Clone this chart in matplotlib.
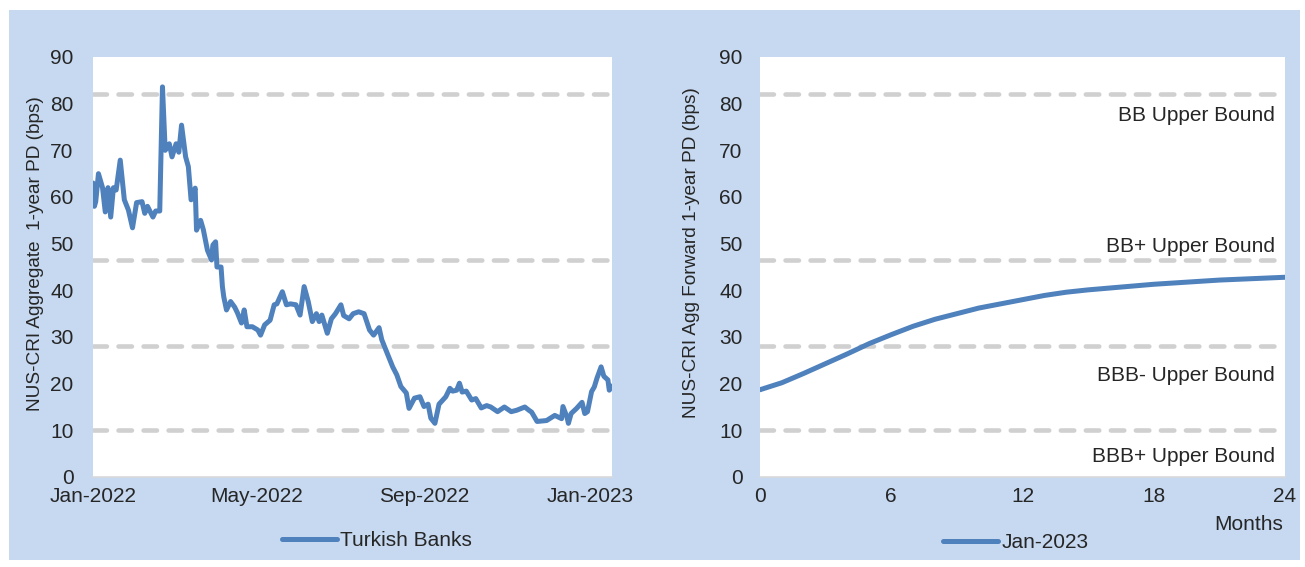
import matplotlib
matplotlib.use("Agg")
import matplotlib.pyplot as plt
import pandas as pd
from matplotlib.patches import Rectangle

plt.rcParams['font.family'] = ['Liberation Sans', 'DejaVu Sans']

# ---------------- data ----------------
left_dates = [
    "2022-01-01", "2022-01-02", "2022-01-03", "2022-01-05", "2022-01-07", "2022-01-08",
    "2022-01-10", "2022-01-12", "2022-01-14", "2022-01-16", "2022-01-18", "2022-01-21",
    "2022-01-24", "2022-01-27", "2022-01-30", "2022-02-02", "2022-02-06", "2022-02-08",
    "2022-02-10", "2022-02-14", "2022-02-16", "2022-02-19", "2022-02-21", "2022-02-23",
    "2022-02-26", "2022-02-28", "2022-03-03", "2022-03-05", "2022-03-07", "2022-03-10",
    "2022-03-12", "2022-03-14", "2022-03-17", "2022-03-18", "2022-03-21", "2022-03-23",
    "2022-03-26", "2022-03-29", "2022-03-30", "2022-04-01", "2022-04-02", "2022-04-05",
    "2022-04-06", "2022-04-07", "2022-04-09", "2022-04-12", "2022-04-15", "2022-04-17",
    "2022-04-20", "2022-04-22", "2022-04-24", "2022-04-28", "2022-05-02", "2022-05-04",
    "2022-05-07", "2022-05-11", "2022-05-14", "2022-05-16", "2022-05-20", "2022-05-23",
    "2022-05-26", "2022-05-30", "2022-06-02", "2022-06-05", "2022-06-08", "2022-06-11",
    "2022-06-14", "2022-06-16", "2022-06-18", "2022-06-22", "2022-06-25", "2022-06-28",
    "2022-07-02", "2022-07-04", "2022-07-08", "2022-07-11", "2022-07-15", "2022-07-19",
    "2022-07-23", "2022-07-26", "2022-07-30", "2022-08-01", "2022-08-05", "2022-08-09",
    "2022-08-12", "2022-08-15", "2022-08-19", "2022-08-21", "2022-08-25", "2022-08-29",
    "2022-09-01", "2022-09-04", "2022-09-06", "2022-09-09", "2022-09-12", "2022-09-17",
    "2022-09-20", "2022-09-22", "2022-09-25", "2022-09-27", "2022-09-29", "2022-10-02",
    "2022-10-06", "2022-10-09", "2022-10-13", "2022-10-17", "2022-10-20", "2022-10-25",
    "2022-10-30", "2022-11-04", "2022-11-08", "2022-11-14", "2022-11-17", "2022-11-19",
    "2022-11-23", "2022-11-30", "2022-12-06", "2022-12-11", "2022-12-12", "2022-12-15",
    "2022-12-16", "2022-12-18", "2022-12-22", "2022-12-26", "2022-12-28", "2022-12-30",
    "2023-01-02", "2023-01-04", "2023-01-06", "2023-01-09", "2023-01-11", "2023-01-14",
    "2023-01-15", "2023-01-17",
]
turkish_banks = [
    63.0, 58.0, 59.0, 65.0, 63.0, 62.0,
    56.8, 62.0, 55.7, 62.0, 61.5, 67.9,
    59.4, 57.2, 53.4, 58.8, 59.0, 56.5,
    58.0, 55.7, 57.0, 57.0, 83.6, 70.0,
    71.4, 68.6, 71.4, 69.6, 75.4, 68.6,
    66.5, 59.4, 61.9, 52.9, 55.0, 53.0,
    48.6, 46.5, 49.7, 50.4, 45.0, 45.0,
    40.8, 38.6, 35.8, 37.6, 36.4, 35.2,
    33.0, 35.8, 32.2, 32.2, 31.5, 30.4,
    32.6, 33.6, 36.9, 37.1, 39.7, 36.9,
    37.1, 36.9, 34.7, 40.8, 37.6, 33.3,
    35.0, 33.3, 34.7, 30.8, 33.9, 35.0,
    36.9, 34.6, 33.9, 35.0, 35.4, 35.0,
    31.5, 30.4, 32.0, 29.4, 26.5, 23.6,
    21.9, 19.4, 18.0, 14.7, 16.9, 17.2,
    15.1, 15.6, 12.6, 11.5, 15.6, 17.2,
    19.0, 18.4, 18.6, 20.1, 18.2, 18.4,
    16.5, 16.8, 14.8, 15.3, 15.0, 14.0,
    15.0, 14.0, 14.3, 15.0, 14.3, 13.9,
    11.9, 12.1, 13.2, 12.5, 15.1, 12.8,
    11.5, 13.6, 14.7, 16.0, 13.6, 14.0,
    18.3, 19.3, 21.2, 23.6, 21.6, 20.8,
    18.6, 19.5,
]

months = list(range(0, 25))
forward_jan2023 = [18.7, 20.2, 22.2, 24.3, 26.4, 28.6, 30.5, 32.3, 33.8, 35.0,
                   36.2, 37.1, 38.0, 38.9, 39.6, 40.1, 40.5, 40.9, 41.3, 41.6,
                   41.9, 42.2, 42.4, 42.6, 42.8]

bound_values = [82, 46.5, 28, 10]
bound_labels = ["BB Upper Bound", "BB+ Upper Bound", "BBB- Upper Bound", "BBB+ Upper Bound"]
bound_label_y = [77.5, 49.5, 21.8, 4.5]

left_xticks = ["2022-01-01", "2022-05-01", "2022-09-01", "2023-01-01"]
left_xticklabels = ["Jan-2022", "May-2022", "Sep-2022", "Jan-2023"]
right_xticks = [0, 6, 12, 18, 24]
yticks = list(range(0, 91, 10))

# ---------------- style ----------------
BG = '#C6D9F1'
LINE = '#4F81BD'
DASH = '#D0D0D0'
TXT = '#262626'
FS = 15
FS_LAB = 13.7

W, H = 1305, 567
fig = plt.figure(figsize=(W / 100, H / 100), dpi=100)
fig.patch.set_facecolor('white')
bg = Rectangle((9 / W, 1 - 560 / H), (1300 - 9) / W, (560 - 10) / H,
               transform=fig.transFigure, facecolor=BG, edgecolor='none', zorder=-10)
fig.add_artist(bg)

def ax_rect(x0, x1, ytop, ybot):
    return [x0 / W, 1 - ybot / H, (x1 - x0) / W, (ybot - ytop) / H]

axL = fig.add_axes(ax_rect(93, 612, 57, 477))
axR = fig.add_axes(ax_rect(760, 1285, 57, 477))

LW_D = 3.3
dash_style = (0, (2.93, 2.53))

for ax, ypad in ((axL, 14.0), (axR, 12.5)):
    ax.set_facecolor('white')
    for s in ('top', 'right', 'left'):
        ax.spines[s].set_visible(False)
    ax.spines['bottom'].set_color('#D9D9D9')
    ax.spines['bottom'].set_linewidth(1.2)
    ax.set_ylim(0, 90)
    ax.set_yticks(yticks)
    ax.tick_params(axis='both', length=0, labelsize=FS, colors=TXT)
    ax.tick_params(axis='x', pad=7.5)
    ax.tick_params(axis='y', pad=ypad)

# left chart
ld = pd.to_datetime(left_dates)
xmin, xmax = pd.Timestamp("2022-01-01"), pd.Timestamp("2023-01-17")
for b in bound_values:
    axL.plot([xmin, xmax], [b, b], color=DASH, lw=LW_D, linestyle=dash_style,
             dash_capstyle='round', zorder=1)
axL.plot(ld, turkish_banks, color=LINE, lw=3.6, solid_joinstyle='round',
         solid_capstyle='round', zorder=3, label='Turkish Banks')
axL.set_xlim(xmin, xmax)
axL.set_xticks(pd.to_datetime(left_xticks))
axL.set_xticklabels(left_xticklabels)
axL.set_ylabel("NUS-CRI Aggregate  1-year PD (bps)", fontsize=FS_LAB, color=TXT)
axL.yaxis.set_label_coords((44 - 93) / 519, (477 - 254) / 420)
fig.legend(handles=axL.get_lines()[-1:], loc='center left',
           bbox_to_anchor=(282 / W, 1 - 541 / H), frameon=False, fontsize=FS,
           handlelength=2.64, handletextpad=0.15, borderpad=0, borderaxespad=0,
           labelcolor=TXT)

# right chart
for b in bound_values:
    axR.plot([0, 24], [b, b], color=DASH, lw=LW_D, linestyle=dash_style,
             dash_capstyle='round', zorder=1)
for lab, yy in zip(bound_labels, bound_label_y):
    axR.text(23.55, yy, lab, ha='right', va='center', fontsize=FS, color=TXT)
axR.plot(months, forward_jan2023, color=LINE, lw=3.6, solid_joinstyle='round',
         solid_capstyle='round', zorder=3, label='Jan-2023')
axR.set_xlim(0, 24)
axR.set_xticks(right_xticks)
axR.set_ylabel("NUS-CRI Agg Forward 1-year PD (bps)", fontsize=FS_LAB, color=TXT)
axR.yaxis.set_label_coords((700 - 760) / 525, (477 - 252.5) / 420)
fig.text(1283 / W, 1 - 525 / H, "Months", ha='right', va='center', fontsize=FS, color=TXT)
fig.legend(handles=axR.get_lines()[-1:], loc='center left',
           bbox_to_anchor=(943 / W, 1 - 543 / H), frameon=False, fontsize=FS,
           handlelength=2.64, handletextpad=0.15, borderpad=0, borderaxespad=0,
           labelcolor=TXT)

fig.savefig("out.png", dpi=100, facecolor='white')
